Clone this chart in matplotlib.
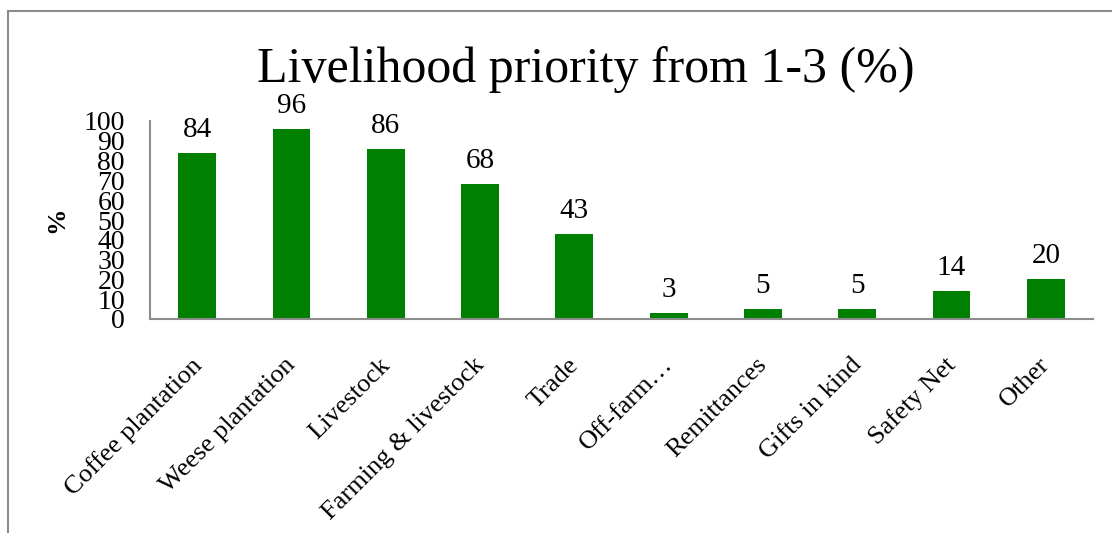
import matplotlib.pyplot as plt
import matplotlib.transforms as mtransforms
from matplotlib.lines import Line2D

categories = ['Coffee plantation', 'Weese plantation', 'Livestock', 'Farming & livestock',
              'Trade', 'Off-farm…', 'Remittances', 'Gifts in kind', 'Safety Net', 'Other']
values = [84, 96, 86, 68, 43, 3, 5, 5, 14, 20]
yticks = list(range(0, 101, 10))

plt.rcParams['font.family'] = ['Liberation Serif', 'DejaVu Serif']

W, H = 1112, 533
fig = plt.figure(figsize=(W / 100, H / 100), dpi=100)
ax = fig.add_axes([150 / W, 1 - 319 / H, (1093 - 150) / W, (319 - 121) / H])

x = range(len(categories))
ax.bar(x, values, width=0.4, color='#008000')
for i, v in enumerate(values):
    ax.annotate(str(v), (i, v), xytext=(0, 11.5), textcoords='offset points',
                ha='center', va='baseline', fontsize=21)

ax.set_xlim(-0.5, len(categories) - 0.5)
ax.set_ylim(0, 100)
ax.set_yticks(yticks)
ax.set_yticklabels([str(t) for t in yticks], fontsize=20)
ax.tick_params(axis='y', length=0, pad=18)
ax.tick_params(axis='x', length=0, pad=25)
ax.set_xticks(list(x))
ax.set_xticklabels(categories, rotation=45, ha='right', rotation_mode='anchor', fontsize=19)
# nudge rotated labels a little to the left, like the original
shift = mtransforms.ScaledTranslation(-7 / 100, 0, fig.dpi_scale_trans)
for lbl in ax.get_xticklabels():
    lbl.set_transform(lbl.get_transform() + shift)

for s in ['top', 'right']:
    ax.spines[s].set_visible(False)
for s in ['left', 'bottom']:
    ax.spines[s].set_color('#8c8c8c')
    ax.spines[s].set_linewidth(1.5)

ax.set_ylabel('%', fontsize=19, fontweight='bold')
ax.yaxis.set_label_coords(-0.087, 0.5)

fig.text(586 / W, 1 - 82 / H, 'Livelihood priority from 1-3 (%)', ha='center', va='baseline', fontsize=36)

# outer chart border (left and top only visible)
fig.add_artist(Line2D([8 / W, 8 / W], [0, 1 - 11 / H], color='#8c8c8c', lw=1.5))
fig.add_artist(Line2D([8 / W, 1], [1 - 11 / H, 1 - 11 / H], color='#8c8c8c', lw=1.5))

fig.savefig('out.png', dpi=100)
